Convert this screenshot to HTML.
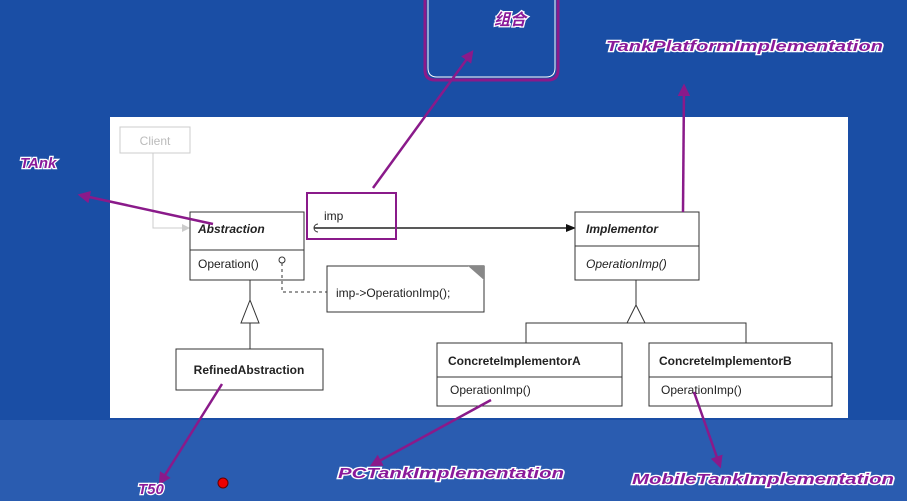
<!DOCTYPE html>
<html><head><meta charset="utf-8"><style>
html,body{margin:0;padding:0;width:907px;height:501px;overflow:hidden;background:#1a4ea5}
svg{display:block}
.lbl{font-family:"Liberation Sans","Noto Sans CJK SC",sans-serif;font-weight:bold;font-style:italic;fill:#8a1a9a;stroke:#fff;stroke-width:2.5px;paint-order:stroke;}
.u{font-family:"Liberation Sans",sans-serif;font-size:12px;fill:#222}
</style></head><body>
<svg width="907" height="501" viewBox="0 0 907 501">
<defs>
<marker id="pa" viewBox="0 0 10 10" refX="8" refY="5" markerWidth="5" markerHeight="5" orient="auto-start-reverse"><path d="M0,0 L10,5 L0,10 z" fill="#8a1a8a"/></marker>
</defs>
<rect x="0" y="0" width="907" height="501" fill="#1a4ea5"/>
<rect x="0" y="420" width="907" height="81" fill="#2a5cb0"/>
<rect x="110" y="117" width="738" height="301" fill="#fff"/>
<!-- Client -->
<rect x="120" y="127" width="70" height="26" fill="#fff" stroke="#ccc"/>
<text x="155" y="145" text-anchor="middle" class="u" style="fill:#bbb">Client</text>
<path d="M153,153 V228 H186" fill="none" stroke="#ccc"/>
<path d="M182,224 L190,228 L182,232z" fill="#ccc"/>
<!-- Abstraction -->
<rect x="190" y="212" width="114" height="68" fill="#fff" stroke="#333"/>
<line x1="190" y1="250" x2="304" y2="250" stroke="#333"/>
<text x="198" y="233" class="u" style="font-weight:bold;font-style:italic">Abstraction</text>
<text x="198" y="268" class="u">Operation()</text>
<circle cx="282" cy="260" r="3" fill="none" stroke="#333"/>
<path d="M282,263 V292 H327" fill="none" stroke="#333" stroke-dasharray="3,3"/>
<!-- note -->
<path d="M327,266 H484 V312 H327 Z" fill="#fff" stroke="#333"/>
<path d="M468,266 L484,266 L484,280 Z" fill="#888"/>
<text x="336" y="297" class="u">imp-&gt;OperationImp();</text>
<!-- inheritance abstraction -->
<line x1="250" y1="280" x2="250" y2="349" stroke="#333"/>
<path d="M250,300 L241,323 L259,323 Z" fill="#fff" stroke="#333"/>
<rect x="176" y="349" width="147" height="41" fill="#fff" stroke="#333"/>
<text x="249" y="374" text-anchor="middle" class="u" style="font-weight:bold">RefinedAbstraction</text>
<!-- imp association -->
<line x1="314" y1="228" x2="570" y2="228" stroke="#222" stroke-width="1.5"/>
<path d="M566,224 L576,228 L566,232z" fill="#111"/>
<path d="M318,224 A4,4 0 1,0 318,232" fill="none" stroke="#333"/>
<text x="324" y="220" class="u">imp</text>
<rect x="307" y="193" width="89" height="46" fill="none" stroke="#8a1a8a" stroke-width="2"/>
<!-- Implementor -->
<rect x="575" y="212" width="124" height="68" fill="#fff" stroke="#333"/>
<line x1="575" y1="246" x2="699" y2="246" stroke="#333"/>
<text x="586" y="233" class="u" style="font-weight:bold;font-style:italic">Implementor</text>
<text x="586" y="268" class="u" style="font-style:italic">OperationImp()</text>
<line x1="636" y1="280" x2="636" y2="323" stroke="#333"/>
<path d="M636,305 L627,323 L645,323 Z" fill="#fff" stroke="#333"/>
<path d="M526,343 V323 H746 V343" fill="none" stroke="#333"/>
<rect x="437" y="343" width="185" height="63" fill="#fff" stroke="#333"/>
<line x1="437" y1="377" x2="622" y2="377" stroke="#333"/>
<text x="448" y="365" class="u" style="font-weight:bold">ConcreteImplementorA</text>
<text x="450" y="394" class="u">OperationImp()</text>
<rect x="649" y="343" width="183" height="63" fill="#fff" stroke="#333"/>
<line x1="649" y1="377" x2="832" y2="377" stroke="#333"/>
<text x="659" y="365" class="u" style="font-weight:bold">ConcreteImplementorB</text>
<text x="661" y="394" class="u">OperationImp()</text>
<!-- 组合 box -->
<path d="M425,0 V70 Q425,80 435,80 H548 Q558,80 558,70 V0" fill="none" stroke="#8a1a8a" stroke-width="3"/>
<path d="M428,0 V68 Q428,77 437,77 H546 Q555,77 555,68 V0" fill="none" stroke="#fff" stroke-width="1"/>
<!-- purple arrows -->
<g stroke="#8a1a8a" stroke-width="2.5" fill="none">
<line x1="373" y1="188" x2="472" y2="52" marker-end="url(#pa)"/>
<line x1="683" y1="212" x2="684" y2="86" marker-end="url(#pa)"/>
<line x1="213" y1="224" x2="80" y2="195" marker-end="url(#pa)"/>
<line x1="222" y1="384" x2="160" y2="483" marker-end="url(#pa)"/>
<line x1="491" y1="400" x2="372" y2="465" marker-end="url(#pa)"/>
<line x1="694" y1="392" x2="720" y2="466" marker-end="url(#pa)"/>
</g>
<circle cx="223" cy="483" r="5" fill="#e00" stroke="#600"/>
<!-- labels -->
<text x="494" y="25" class="lbl" font-size="16">组合</text>
<text x="606" y="51" class="lbl" font-size="15" textLength="277" lengthAdjust="spacingAndGlyphs">TankPlatformImplementation</text>
<text x="20" y="168" class="lbl" font-size="15">TAnk</text>
<text x="138" y="494" class="lbl" font-size="15">T50</text>
<text x="338" y="478" class="lbl" font-size="15" textLength="226" lengthAdjust="spacingAndGlyphs">PCTankImplementation</text>
<text x="632" y="484" class="lbl" font-size="15" textLength="262" lengthAdjust="spacingAndGlyphs">MobileTankImplementation</text>
</svg>
</body></html>
